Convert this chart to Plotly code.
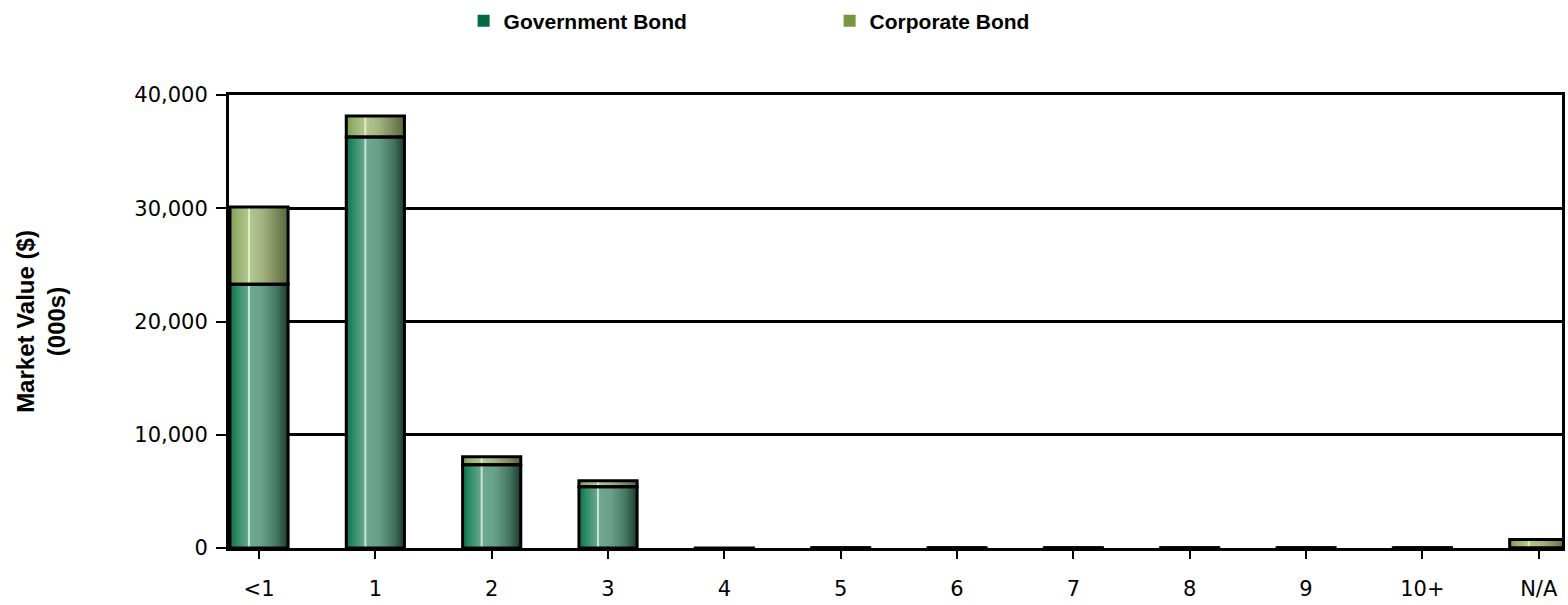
import plotly.graph_objects as go

categories = ["<1", "1", "2", "3", "4", "5", "6", "7", "8", "9", "10+", "N/A"]
government = [23300, 36300, 7350, 5400, -250, 30, 30, 30, 30, 30, 30, 0]
corporate = [6800, 1850, 700, 530, 0, 0, 0, 0, 0, 0, 0, 750]
y_ticks = [0, 10000, 20000, 30000, 40000]

# cylinder-like horizontal gradient stops (position, rgb)
gov_stops = [(0.0, (15, 112, 72)), (0.12, (45, 140, 103)), (0.33, (110, 170, 145)),
             (0.55, (105, 160, 138)), (0.8, (70, 120, 98)), (1.0, (28, 60, 45))]
corp_stops = [(0.0, (125, 155, 80)), (0.12, (150, 178, 110)), (0.33, (178, 200, 145)),
              (0.55, (165, 180, 130)), (0.8, (125, 138, 90)), (1.0, (88, 102, 58))]


def interp(stops, t):
    for (p0, c0), (p1, c1) in zip(stops[:-1], stops[1:]):
        if p0 <= t <= p1:
            f = (t - p0) / (p1 - p0) if p1 > p0 else 0
            return "rgb(%d,%d,%d)" % tuple(round(a + (b - a) * f) for a, b in zip(c0, c1))
    return "rgb(%d,%d,%d)" % stops[-1][1]


BAR_W = 0.5
N = 29
sw = BAR_W / N
fig = go.Figure()

for series, base, stops, hl in [(government, None, gov_stops, "rgb(200,228,215)"),
                                (corporate, government, corp_stops, "rgb(225,235,200)")]:
    for i in range(N):
        t = (i + 0.5) / N
        col = hl if i == 9 else interp(stops, t)
        off = -BAR_W / 2 + i * sw
        w = min(2 * sw, BAR_W / 2 - off)
        fig.add_trace(go.Bar(
            x=categories, y=series, base=base, width=w, offset=off,
            marker=dict(color=col, line=dict(width=0)), showlegend=False, hoverinfo="skip"))

# outlines
fig.add_trace(go.Bar(x=categories, y=government, width=BAR_W, offset=-BAR_W / 2,
                     marker=dict(color="rgba(0,0,0,0)", line=dict(color="black", width=3)),
                     showlegend=False, hoverinfo="skip"))
fig.add_trace(go.Bar(x=categories, y=corporate, base=government, width=BAR_W, offset=-BAR_W / 2,
                     marker=dict(color="rgba(0,0,0,0)", line=dict(color="black", width=3)),
                     showlegend=False, hoverinfo="skip"))

# legend entries
fig.add_trace(go.Bar(x=[categories[0]], y=[None], name="Government Bond",
                     marker=dict(color="#006b3f", line=dict(width=0))))
fig.add_trace(go.Bar(x=[categories[0]], y=[None], name="Corporate Bond",
                     marker=dict(color="#76983e", line=dict(width=0))))

fig.update_layout(
    width=1568, height=605,
    margin=dict(l=229, r=3, t=95, b=57),
    paper_bgcolor="white", plot_bgcolor="white",
    barmode="overlay",
    showlegend=True,
    legend=dict(orientation="h", x=0.176, y=0.999, yref="container",
                xanchor="left", yanchor="top",
                font=dict(family="Liberation Sans", size=21, color="black", weight="bold"),
                entrywidth=321, entrywidthmode="pixels", traceorder="normal",
                bgcolor="rgba(0,0,0,0)"),
    font=dict(family="DejaVu Sans", size=21, color="black"),
)

fig.update_xaxes(
    type="category", range=[-0.258, 11.2],
    showline=True, linecolor="black", linewidth=3, mirror=True,
    ticks="outside", ticklen=8, tickwidth=2, tickcolor="black",
    ticklabelstandoff=12,
    showgrid=False, zeroline=False,
    tickfont=dict(family="DejaVu Sans", size=21, color="black"),
)
fig.update_yaxes(
    range=[0, 40000], tickvals=y_ticks, tickformat=",d",
    showline=True, linecolor="black", linewidth=3, mirror=True,
    ticks="outside", ticklen=10, tickwidth=2, tickcolor="black",
    ticklabelstandoff=4,
    showgrid=True, gridcolor="black", gridwidth=2.5, zeroline=False,
    tickfont=dict(family="DejaVu Sans", size=21, color="black"),
    title=dict(text="Market Value ($)<br>(000s)", standoff=62,
               font=dict(family="Liberation Sans", size=24, color="black", weight="bold")),
)

fig.write_html("out.html", config={"displayModeBar": False},
               post_script="document.body.style.margin='0';document.body.style.padding='0';")
